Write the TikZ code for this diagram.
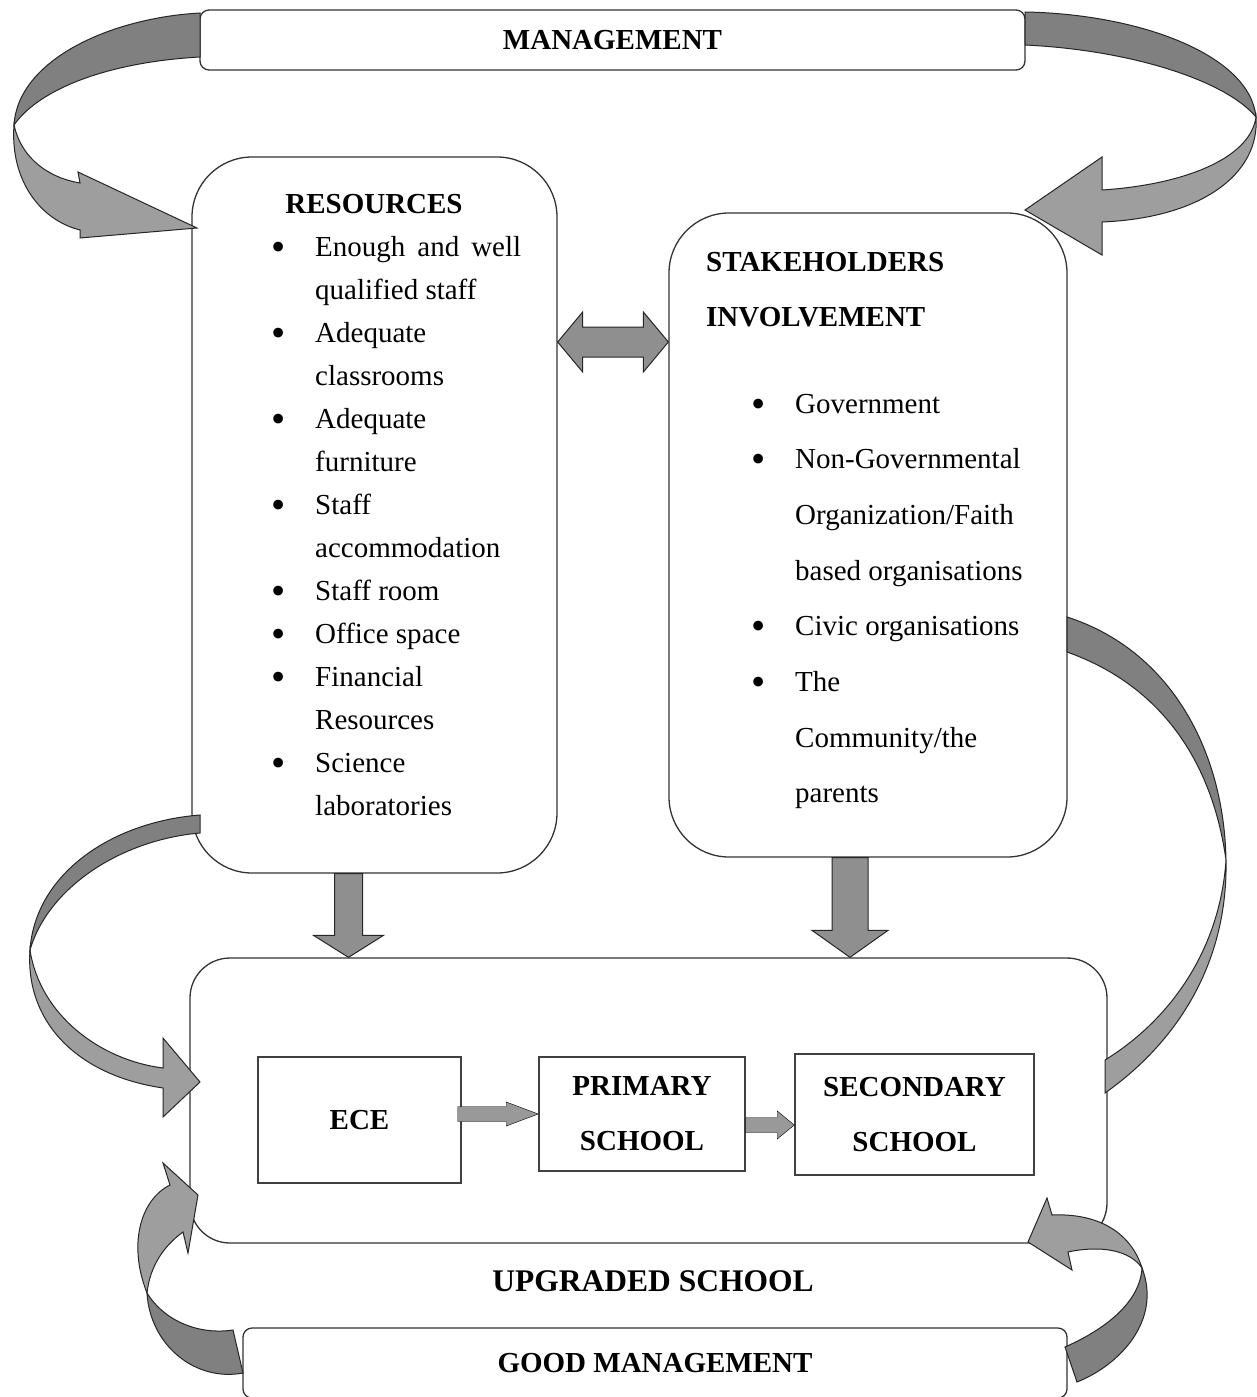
\documentclass[tikz,border=0pt]{standalone}
\usepackage{graphicx}
\usepackage{fontspec}
\setmainfont{Liberation Serif}
\usetikzlibrary{calc, positioning}
\definecolor{ribdark}{gray}{0.5}
\definecolor{riblight}{gray}{0.62}
\definecolor{blockgray}{gray}{0.56}
\newcommand{\listbullet}{\raisebox{-4pt}{\scalebox{1.4}{\textbullet}}}

% straight block arrow: [style]{from}{to}{shaft half width}{head half width}{head length}
\newcommand{\fatarrow}[6][blockarrow]{%
  \path (#2) coordinate (fa-s) (#3) coordinate (fa-e);
  \path ($(fa-e)!#6!(fa-s)$) coordinate (fa-h);
  \draw[#1] ($(fa-s)!#4!90:(fa-e)$) -- ($(fa-h)!#4!-90:(fa-s)$) -- ($(fa-h)!#5!-90:(fa-s)$)
    -- (fa-e) -- ($(fa-h)!#5!90:(fa-s)$) -- ($(fa-h)!#4!90:(fa-s)$) -- ($(fa-s)!#4!-90:(fa-e)$) -- cycle;
}
% block arrow with two heads
\newcommand{\fatdarrow}[6][blockarrow]{%
  \path (#2) coordinate (fd-s) (#3) coordinate (fd-e);
  \path ($(fd-s)!#6!(fd-e)$) coordinate (fd-a) ($(fd-e)!#6!(fd-s)$) coordinate (fd-b);
  \draw[#1] (fd-s) -- ($(fd-a)!#5!90:(fd-e)$) -- ($(fd-a)!#4!90:(fd-e)$) -- ($(fd-b)!#4!-90:(fd-s)$)
    -- ($(fd-b)!#5!-90:(fd-s)$) -- (fd-e) -- ($(fd-b)!#5!90:(fd-s)$) -- ($(fd-b)!#4!90:(fd-s)$)
    -- ($(fd-a)!#4!-90:(fd-e)$) -- ($(fd-a)!#5!-90:(fd-e)$) -- cycle;
}

\begin{document}
\begin{tikzpicture}[x=1pt, y=-1pt,
    roundbox/.style={draw=black!80, line width=1.3pt, fill=white, rounded corners=60pt},
    flatbox/.style={draw=black!80, line width=1.3pt, fill=white, rounded corners=9pt, font=\bfseries\fontsize{29}{35}\selectfont},
    stagebox/.style={draw=black!75, line width=1.5pt, fill=white, align=center, font=\bfseries\fontsize{29}{55}\selectfont},
    headtext/.style={inner sep=0pt, font=\bfseries\fontsize{29}{35}\selectfont},
    listtext/.style={inner sep=0pt, anchor=base west},
    blockarrow/.style={draw=black!85, line width=1pt, fill=blockgray},
    thinarrow/.style={fill=gray!80},
    ribbondark/.style={draw=black!85, line width=1pt, fill=ribdark},
    ribbonlight/.style={draw=black!85, line width=1pt, fill=riblight}
  ]
  \useasboundingbox (0,0) rectangle (1257,1397);

  % Boxes
  \node[flatbox, minimum width=825pt, minimum height=60pt] (mgmt) at (612.5,40) {MANAGEMENT};
  \node[roundbox, minimum width=365pt, minimum height=716pt] (res) at (374.5,515) {};
  \node[roundbox, minimum width=398pt, minimum height=644pt] (stake) at (868,535) {};
  \node[roundbox, rounded corners=40pt, minimum width=917pt, minimum height=285pt] (upg) at (648.5,1100.5) {};
  \node[flatbox, minimum width=824pt, minimum height=70pt] (good) at (655,1363) {GOOD MANAGEMENT};

  \node[stagebox, minimum width=203pt, minimum height=126pt] (ece) at (359.5,1120) {ECE};
  \node[stagebox, minimum width=206pt, minimum height=114pt] (prim) at (642,1114) {PRIMARY\\SCHOOL};
  \node[stagebox, minimum width=239pt, minimum height=121pt] (sec) at (914.5,1114.5) {SECONDARY\\SCHOOL};
  \node[headtext, font=\bfseries\fontsize{31.5}{36}\selectfont, below=27pt of upg, xshift=4.5pt] (upglbl) {UPGRADED SCHOOL};

  % Texts
  \node[headtext] (reshead) at (374,204) {RESOURCES};
  \node[listtext, font=\fontsize{29}{43}\selectfont] (reslist) at (271,256) {%
    \begin{tabular}[t]{@{}p{44pt}@{}l@{}}
      \listbullet & \makebox[206pt][s]{Enough and well}\\
                  & qualified staff\\
      \listbullet & Adequate\\
                  & classrooms\\
      \listbullet & Adequate\\
                  & furniture\\
      \listbullet & Staff\\
                  & accommodation\\
      \listbullet & Staff room\\
      \listbullet & Office space\\
      \listbullet & Financial\\
                  & Resources\\
      \listbullet & Science\\
                  & laboratories
    \end{tabular}};
  \node[listtext, font=\bfseries\fontsize{29}{55}\selectfont] (stakehead) at (706,271) {%
    \begin{tabular}[t]{@{}l@{}}
      STAKEHOLDERS\\
      INVOLVEMENT
    \end{tabular}};
  \node[listtext, font=\fontsize{29}{55.7}\selectfont] (stakelist) at (751,413) {%
    \begin{tabular}[t]{@{}p{44pt}@{}l@{}}
      \listbullet & Government\\
      \listbullet & Non-Governmental\\
                  & Organization/Faith\\
                  & based organisations\\
      \listbullet & Civic organisations\\
      \listbullet & The\\
                  & Community/the\\
                  & parents
    \end{tabular}};

  % Straight arrows
  \coordinate (linky) at (0,342);
  \fatdarrow{res.east |- linky}{stake.west |- linky}{15pt}{30pt}{25pt}
  \fatarrow{[xshift=-26pt]res.south}{[xshift=-26pt]res.south |- upg.north}{14pt}{35pt}{22pt}
  \fatarrow{[xshift=-18pt]stake.south}{[xshift=-18pt]stake.south |- upg.north}{18pt}{38pt}{27pt}
  \fatarrow[thinarrow]{[xshift=-4pt]ece.east |- prim.west}{prim.west}{7.5pt}{12pt}{32pt}
  \fatarrow[thinarrow]{[yshift=-11pt]prim.east}{[yshift=-11pt]prim.east -| sec.west}{7.5pt}{14pt}{17pt}

  % Curved arrows
  % management -> resources
  \draw[ribbondark] (200,13) .. controls (110,18) and (18,60) .. (14,125)
    .. controls (40,88) and (110,62) .. (200,57) -- cycle;
  \draw[ribbonlight] (14,125) .. controls (22,160) and (50,178) .. (80,183) -- (78,172) -- (197,228)
    -- (80,238) -- (80,230) .. controls (40,220) and (10,180) .. (14,125) -- cycle;
  % management -> stakeholders
  \draw[ribbondark] (1025,12) .. controls (1140,14) and (1250,55) .. (1256,117)
    .. controls (1225,80) and (1130,50) .. (1025,45) -- cycle;
  \draw[ribbonlight] (1256,117) .. controls (1250,160) and (1180,185) .. (1102,190) -- (1102,157) -- (1025,210)
    -- (1102,255) -- (1102,222) .. controls (1200,218) and (1260,175) .. (1256,117) -- cycle;
  % resources -> upgraded school
  \draw[ribbondark] (200,815) .. controls (110,822) and (35,875) .. (30,950)
    .. controls (48,888) and (120,840) .. (200,833) -- cycle;
  \draw[ribbonlight] (30,950) .. controls (40,1015) and (100,1060) .. (163,1068) -- (163,1038) -- (200,1082)
    -- (163,1117) -- (163,1088) .. controls (75,1075) and (25,1020) .. (30,950) -- cycle;
  % stakeholders -- upgraded school
  \draw[ribbondark] (1067,617) .. controls (1170,650) and (1224,750) .. (1226,860)
    .. controls (1212,760) and (1160,685) .. (1067,652) -- cycle;
  \draw[ribbonlight] (1226,860) .. controls (1228,960) and (1180,1040) .. (1105,1093) -- (1105,1060)
    .. controls (1170,1020) and (1220,950) .. (1226,860) -- cycle;
  % good management -> upgraded school (left)
  \draw[ribbondark] (147,1293) .. controls (165,1322) and (200,1335) .. (233,1330) -- (243,1373)
    .. controls (195,1382) and (150,1345) .. (147,1293) -- cycle;
  \draw[ribbonlight] (147,1293) .. controls (128,1245) and (140,1200) .. (170,1185) -- (163,1163) -- (198,1195)
    -- (188,1253) -- (183,1232) .. controls (165,1245) and (150,1265) .. (147,1293) -- cycle;
  % good management -> upgraded school (right)
  \draw[ribbondark] (1142,1268) .. controls (1162,1320) and (1120,1365) .. (1077,1382) -- (1065,1347)
    .. controls (1110,1327) and (1140,1300) .. (1142,1268) -- cycle;
  \draw[ribbonlight] (1142,1268) .. controls (1130,1230) and (1095,1213) .. (1052,1215) -- (1047,1198) -- (1028,1242)
    -- (1072,1270) -- (1068,1252) .. controls (1100,1245) and (1130,1250) .. (1142,1268) -- cycle;
\end{tikzpicture}
\end{document}
